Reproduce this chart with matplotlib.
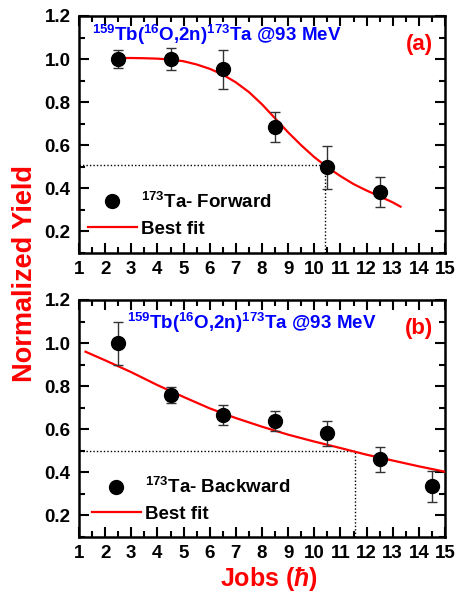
import matplotlib
matplotlib.use("Agg")
import matplotlib.pyplot as plt
from matplotlib.ticker import MultipleLocator

plt.rcParams['font.family'] = ['Liberation Sans', 'DejaVu Sans']
plt.rcParams['font.weight'] = 'bold'
plt.rcParams['mathtext.fontset'] = 'custom'
plt.rcParams['mathtext.rm'] = 'Liberation Sans'
plt.rcParams['mathtext.bf'] = 'Liberation Sans:bold'
plt.rcParams['mathtext.it'] = 'Liberation Sans:bold:italic'

# ---- data: panel (a) forward ----
j_fwd = [2.5, 4.5, 6.5, 8.5, 10.5, 12.5]
y_fwd = [1.0, 1.0, 0.952, 0.683, 0.498, 0.383]
e_fwd = [0.04, 0.05, 0.09, 0.07, 0.10, 0.068]
fit_fwd_x = [2.5, 3, 3.5, 4, 4.5, 5, 5.5, 6, 6.5, 7, 7.5, 8, 8.5, 9, 9.5,
             10, 10.5, 11, 11.5, 12, 12.5, 13, 13.3]
fit_fwd_y = [1.005, 1.005, 1.004, 1.002, 0.998, 0.99, 0.975, 0.955, 0.928,
             0.892, 0.847, 0.79, 0.725, 0.66, 0.6, 0.545, 0.498, 0.457,
             0.42, 0.39, 0.363, 0.335, 0.315]
half_fwd_j, half_fwd_y = 10.4, 0.51

# ---- data: panel (b) backward ----
j_bwd = [2.5, 4.5, 6.5, 8.5, 10.5, 12.5, 14.5]
y_bwd = [1.0, 0.758, 0.667, 0.64, 0.581, 0.461, 0.336]
e_bwd = [0.10, 0.037, 0.047, 0.047, 0.058, 0.057, 0.072]
fit_bwd_x = [1.25, 2, 3, 4, 5, 6, 7, 8, 9, 10, 11, 12, 13, 14, 15]
fit_bwd_y = [0.96, 0.92, 0.865, 0.805, 0.75, 0.697, 0.652, 0.612, 0.575,
             0.543, 0.513, 0.482, 0.455, 0.428, 0.403]
half_bwd_j, half_bwd_y = 11.55, 0.50

reaction = r'$\mathbf{^{159}Tb(^{16}O{,}2n)^{173}Ta\ @93\ MeV}$'

fig = plt.figure(figsize=(4.57, 5.98), dpi=100)
W, H = 457, 598
axA = fig.add_axes([79 / W, 1 - 253 / H, 366 / W, 237 / H])
axB = fig.add_axes([79 / W, 1 - 537 / H, 366 / W, 237 / H])

panels = [
    (axA, j_fwd, y_fwd, e_fwd, fit_fwd_x, fit_fwd_y, half_fwd_j, half_fwd_y,
     r'$\mathbf{^{173}Ta}$- Forward', '(a)', (1.5, 1.082), (0.024, 0.065)),
    (axB, j_bwd, y_bwd, e_bwd, fit_bwd_x, fit_bwd_y, half_bwd_j, half_bwd_y,
     r'$\mathbf{^{173}Ta}$- Backward', '(b)', (2.84, 1.064), (0.035, 0.06)),
]

for ax, jx, yy, ee, fx, fy, hj, hy, lab, tag, tpos, lpos in panels:
    ax.set_xlim(1, 15)
    ax.set_ylim(0.1, 1.2)
    ax.plot([1, hj], [hy, hy], ls=(0, (1, 1.5)), color='black', lw=1.0)
    ax.plot([hj, hj], [0.1, hy], ls=(0, (1, 1.5)), color='black', lw=1.0)
    line, = ax.plot(fx, fy, color='#ff0000', lw=1.6, zorder=3)
    ax.errorbar(jx, yy, yerr=ee, fmt='none', ecolor='#333333',
                elinewidth=1.0, capsize=3.5, capthick=1.0, zorder=4)
    pts, = ax.plot(jx, yy, 'o', color='black', ms=10, zorder=5)
    ax.xaxis.set_major_locator(MultipleLocator(1))
    ax.xaxis.set_minor_locator(MultipleLocator(0.5))
    ax.yaxis.set_major_locator(MultipleLocator(0.2))
    ax.yaxis.set_minor_locator(MultipleLocator(0.1))
    ax.tick_params(which='both', direction='in', top=True, right=True,
                   width=1.5)
    ax.tick_params(which='major', length=7, labelsize=13.5)
    ax.tick_params(which='minor', length=4)
    ax.tick_params(axis='x', pad=6)
    ax.tick_params(axis='y', pad=6)
    for lbl in ax.get_xticklabels() + ax.get_yticklabels():
        lbl.set_fontweight('bold')
    for sp in ax.spines.values():
        sp.set_linewidth(1.8)
    ax.text(tpos[0], tpos[1], reaction, color='#0000ff', fontsize=13.5,
            ha='left', va='baseline')
    ax.text(0.93, 0.88, tag, transform=ax.transAxes, color='#ff0000',
            fontsize=16, fontweight='bold', ha='center', va='center')
    ax.legend([pts, line], [lab, 'Best fit'], loc='lower left',
              bbox_to_anchor=lpos, frameon=False, fontsize=13.5,
              handlelength=2.6, handletextpad=0.25, labelspacing=0.45,
              borderpad=0, borderaxespad=0, numpoints=1)

axB.set_xlabel(r'Jobs ($\hbar$)', color='#ff0000', fontsize=18,
               fontweight='bold', labelpad=2)
axB.xaxis.set_label_coords(0.52, -0.12)
fig.text(25 / W, 1 - 273 / H, 'Normalized Yield', color='#ff0000',
         fontsize=19.5, fontweight='bold', rotation=90, ha='center',
         va='center')

fig.savefig('out.png', dpi=100)
